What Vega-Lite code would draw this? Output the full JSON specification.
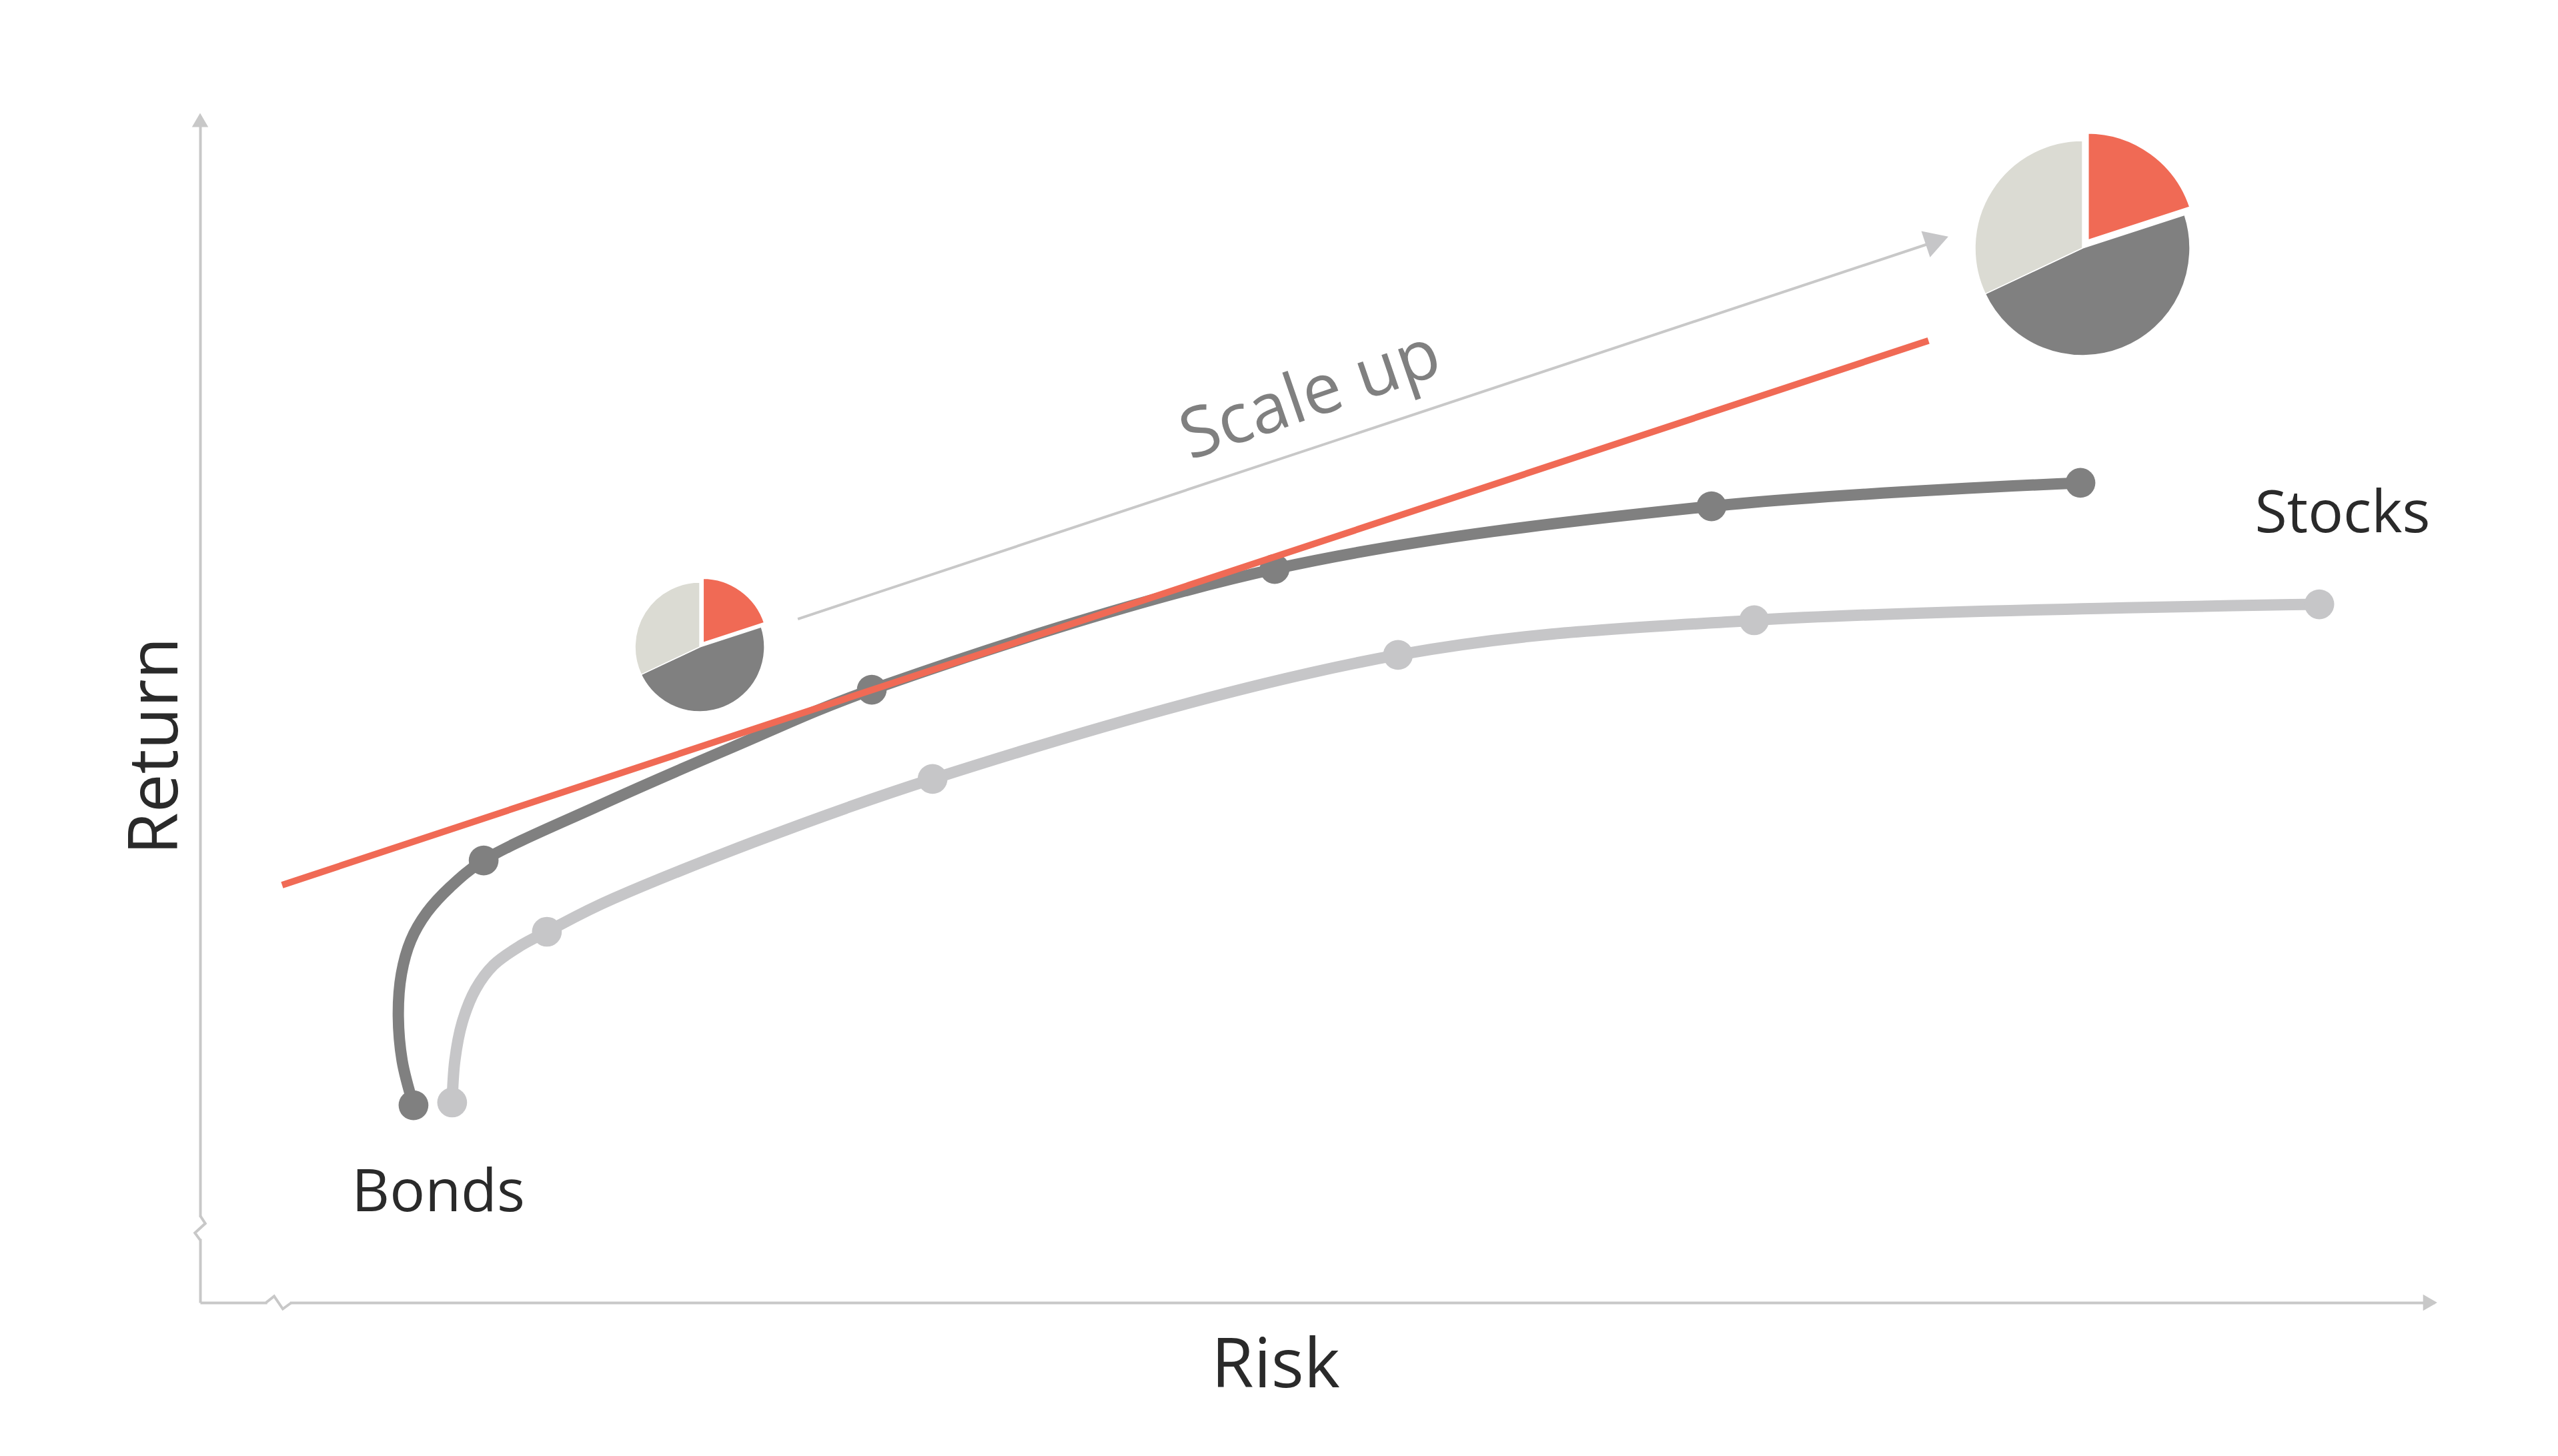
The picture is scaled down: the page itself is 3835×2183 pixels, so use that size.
{
  "$schema": "https://vega.github.io/schema/vega-lite/v6.json",
  "width": 3350,
  "height": 1773,
  "autosize": {"type": "none"},
  "padding": {"left": 300, "top": 180, "right": 185, "bottom": 230},
  "background": "white",
  "config": {"view": {"stroke": null}, "font": "Open Sans"},
  "datasets": {
    "curves": [
      {"series": "dark", "seq": 1, "risk": 9.55, "ret": 16.69, "dot": true},
      {"series": "dark", "seq": 2, "risk": 9.04, "ret": 20.47, "dot": false},
      {"series": "dark", "seq": 3, "risk": 8.87, "ret": 24.42, "dot": false},
      {"series": "dark", "seq": 4, "risk": 9.01, "ret": 27.81, "dot": false},
      {"series": "dark", "seq": 5, "risk": 9.43, "ret": 30.63, "dot": false},
      {"series": "dark", "seq": 6, "risk": 10.15, "ret": 32.99, "dot": false},
      {"series": "dark", "seq": 7, "risk": 11.19, "ret": 35.14, "dot": false},
      {"series": "dark", "seq": 8, "risk": 12.69, "ret": 37.39, "dot": true},
      {"series": "dark", "seq": 9, "risk": 17.91, "ret": 42.08, "dot": false},
      {"series": "dark", "seq": 10, "risk": 23.88, "ret": 47.01, "dot": false},
      {"series": "dark", "seq": 11, "risk": 30.06, "ret": 51.83, "dot": true},
      {"series": "dark", "seq": 12, "risk": 48.09, "ret": 62.04, "dot": true},
      {"series": "dark", "seq": 13, "risk": 67.64, "ret": 67.34, "dot": true},
      {"series": "dark", "seq": 14, "risk": 84.15, "ret": 69.32, "dot": true},
      {"series": "light", "seq": 1, "risk": 11.28, "ret": 16.92, "dot": true},
      {"series": "light", "seq": 2, "risk": 11.4, "ret": 20.47, "dot": false},
      {"series": "light", "seq": 3, "risk": 11.73, "ret": 23.69, "dot": false},
      {"series": "light", "seq": 4, "risk": 12.33, "ret": 26.51, "dot": false},
      {"series": "light", "seq": 5, "risk": 13.13, "ret": 28.54, "dot": false},
      {"series": "light", "seq": 6, "risk": 14.33, "ret": 30.17, "dot": false},
      {"series": "light", "seq": 7, "risk": 15.52, "ret": 31.36, "dot": true},
      {"series": "light", "seq": 8, "risk": 18.51, "ret": 34.18, "dot": false},
      {"series": "light", "seq": 9, "risk": 32.78, "ret": 44.28, "dot": true},
      {"series": "light", "seq": 10, "risk": 53.61, "ret": 54.77, "dot": true},
      {"series": "light", "seq": 11, "risk": 69.55, "ret": 57.7, "dot": true},
      {"series": "light", "seq": 12, "risk": 94.84, "ret": 59.05, "dot": true}
    ],
    "tangent": [
      {"risk": 3.67, "ret": 35.31},
      {"risk": 77.35, "ret": 81.35}
    ],
    "arrow": [
      {"part": "line", "risk": 26.75, "ret": 57.81},
      {"part": "line", "risk": 77.31, "ret": 89.51},
      {"part": "head", "risk": 77.73, "ret": 89.82}
    ],
    "pies": [
      {"pie": "small", "slice": "Stocks", "share": 20, "order": 1, "risk": 22.36, "ret": 55.44},
      {"pie": "small", "slice": "Bonds", "share": 48, "order": 2, "risk": 22.36, "ret": 55.44},
      {"pie": "small", "slice": "Other", "share": 32, "order": 3, "risk": 22.36, "ret": 55.44},
      {"pie": "large", "slice": "Stocks", "share": 20, "order": 1, "risk": 84.24, "ret": 89.17},
      {"pie": "large", "slice": "Bonds", "share": 48, "order": 2, "risk": 84.24, "ret": 89.17},
      {"pie": "large", "slice": "Other", "share": 32, "order": 3, "risk": 84.24, "ret": 89.17}
    ],
    "labels": [
      {"label": "Bonds", "risk": 10.66, "ret": 9.19},
      {"label": "Stocks", "risk": 95.88, "ret": 66.61}
    ],
    "annot": [
      {"label": "Scale up", "risk": 49.7, "ret": 76.6}
    ],
    "axisMarks": [
      {"kind": "yarrow", "risk": 0, "ret": 100},
      {"kind": "xarrow", "risk": 99.8, "ret": 0},
      {"kind": "xbreak", "risk": 3.52, "ret": 0},
      {"kind": "ybreak", "risk": 0, "ret": 6.32}
    ]
  },
  "encoding": {
    "x": {
      "field": "risk",
      "type": "quantitative",
      "scale": {"domain": [0, 100], "nice": false, "zero": false},
      "axis": {
        "title": "Risk",
        "domain": true,
        "domainColor": "#c8c8c8",
        "domainWidth": 4,
        "ticks": false,
        "labels": false,
        "grid": false,
        "titleFont": "Open Sans",
        "titleFontSize": 103,
        "titleFontWeight": "normal",
        "titleColor": "#2a2a2a",
        "titleX": 1612,
        "titleY": 95,
        "titleAlign": "center",
        "titleBaseline": "middle"
      }
    },
    "y": {
      "field": "ret",
      "type": "quantitative",
      "scale": {"domain": [0, 100], "nice": false, "zero": false},
      "axis": {
        "title": "Return",
        "domain": true,
        "domainColor": "#c8c8c8",
        "domainWidth": 4,
        "ticks": false,
        "labels": false,
        "grid": false,
        "titleFont": "Open Sans",
        "titleFontSize": 103,
        "titleFontWeight": "normal",
        "titleColor": "#2a2a2a",
        "titleAngle": 270,
        "titleX": -66,
        "titleY": 938,
        "titleAlign": "center",
        "titleBaseline": "middle"
      }
    }
  },
  "layer": [
    {
      "data": {"name": "curves"},
      "mark": {"type": "line", "interpolate": "catmull-rom", "strokeWidth": 17, "strokeCap": "round", "strokeJoin": "round"},
      "encoding": {
        "color": {"field": "series", "type": "nominal", "scale": {"domain": ["dark", "light"], "range": ["#808080", "#c6c6c8"]}, "legend": null},
        "order": {"field": "seq", "type": "quantitative"}
      }
    },
    {
      "data": {"name": "curves"},
      "transform": [{"filter": "datum.dot"}],
      "mark": {"type": "point", "filled": true, "size": 2000, "opacity": 1},
      "encoding": {
        "color": {"field": "series", "type": "nominal", "scale": {"domain": ["dark", "light"], "range": ["#808080", "#c6c6c8"]}, "legend": null}
      }
    },
    {
      "data": {"name": "tangent"},
      "mark": {"type": "line", "color": "#f06a55", "strokeWidth": 10},
      "encoding": {}
    },
    {
      "data": {"name": "arrow"},
      "transform": [{"filter": "datum.part === 'line'"}],
      "mark": {"type": "line", "color": "#c8c8c8", "strokeWidth": 4},
      "encoding": {}
    },
    {
      "data": {"name": "arrow"},
      "transform": [{"filter": "datum.part === 'head'"}],
      "mark": {"type": "point", "shape": "triangle-right", "filled": true, "color": "#c6c6c8", "size": 1700, "angle": 341.6, "opacity": 1}
    },
    {
      "data": {"name": "pies"},
      "transform": [
        {"stack": "share", "groupby": ["pie"], "sort": [{"field": "order", "order": "ascending"}], "as": ["t0", "t1"], "offset": "normalize"},
        {"filter": "datum.pie === 'small' && datum.slice !== 'Stocks'"}
      ],
      "mark": {"type": "arc", "radius": 97, "stroke": "white", "strokeWidth": 1.5},
      "encoding": {
        "theta": {"field": "t0", "type": "quantitative", "scale": {"domain": [0, 1]}},
        "theta2": {"field": "t1"},
        "color": {"field": "slice", "type": "nominal", "scale": {"domain": ["Stocks", "Bonds", "Other"], "range": ["#f06a55", "#808080", "#dbdbd3"]}, "legend": null}
      }
    },
    {
      "data": {"name": "pies"},
      "transform": [
        {"stack": "share", "groupby": ["pie"], "sort": [{"field": "order", "order": "ascending"}], "as": ["t0", "t1"], "offset": "normalize"},
        {"filter": "datum.pie === 'small' && datum.slice === 'Stocks'"}
      ],
      "mark": {"type": "arc", "radius": 99, "stroke": "white", "strokeWidth": 4, "xOffset": 4, "yOffset": -5},
      "encoding": {
        "theta": {"field": "t0", "type": "quantitative", "scale": {"domain": [0, 1]}},
        "theta2": {"field": "t1"},
        "color": {"field": "slice", "type": "nominal", "scale": {"domain": ["Stocks", "Bonds", "Other"], "range": ["#f06a55", "#808080", "#dbdbd3"]}, "legend": null}
      }
    },
    {
      "data": {"name": "pies"},
      "transform": [
        {"stack": "share", "groupby": ["pie"], "sort": [{"field": "order", "order": "ascending"}], "as": ["t0", "t1"], "offset": "normalize"},
        {"filter": "datum.pie === 'large' && datum.slice !== 'Stocks'"}
      ],
      "mark": {"type": "arc", "radius": 161, "stroke": "white", "strokeWidth": 1.5},
      "encoding": {
        "theta": {"field": "t0", "type": "quantitative", "scale": {"domain": [0, 1]}},
        "theta2": {"field": "t1"},
        "color": {"field": "slice", "type": "nominal", "scale": {"domain": ["Stocks", "Bonds", "Other"], "range": ["#f06a55", "#808080", "#dbdbd3"]}, "legend": null}
      }
    },
    {
      "data": {"name": "pies"},
      "transform": [
        {"stack": "share", "groupby": ["pie"], "sort": [{"field": "order", "order": "ascending"}], "as": ["t0", "t1"], "offset": "normalize"},
        {"filter": "datum.pie === 'large' && datum.slice === 'Stocks'"}
      ],
      "mark": {"type": "arc", "radius": 164, "stroke": "white", "strokeWidth": 5, "xOffset": 7, "yOffset": -10},
      "encoding": {
        "theta": {"field": "t0", "type": "quantitative", "scale": {"domain": [0, 1]}},
        "theta2": {"field": "t1"},
        "color": {"field": "slice", "type": "nominal", "scale": {"domain": ["Stocks", "Bonds", "Other"], "range": ["#f06a55", "#808080", "#dbdbd3"]}, "legend": null}
      }
    },
    {
      "data": {"name": "labels"},
      "mark": {"type": "text", "font": "Open Sans", "fontSize": 88, "color": "#2a2a2a", "align": "center", "baseline": "middle"},
      "encoding": {"text": {"field": "label"}}
    },
    {
      "data": {"name": "annot"},
      "mark": {"type": "text", "font": "Open Sans", "fontSize": 104, "color": "#808080", "align": "center", "baseline": "middle", "angle": 341},
      "encoding": {"text": {"field": "label"}}
    },
    {
      "data": {"name": "axisMarks"},
      "transform": [{"filter": "datum.kind === 'yarrow'"}],
      "mark": {"type": "point", "shape": "triangle-up", "filled": true, "color": "#c8c8c8", "size": 600, "opacity": 1}
    },
    {
      "data": {"name": "axisMarks"},
      "transform": [{"filter": "datum.kind === 'xarrow'"}],
      "mark": {"type": "point", "shape": "triangle-right", "filled": true, "color": "#c8c8c8", "size": 600, "opacity": 1}
    },
    {
      "data": {"name": "axisMarks"},
      "transform": [{"filter": "datum.kind === 'xbreak'"}],
      "mark": {"type": "point", "shape": "M-1,-0.25L1,-0.25L1,0.25L-1,0.25Z", "filled": true, "color": "white", "size": 1200, "opacity": 1}
    },
    {
      "data": {"name": "axisMarks"},
      "transform": [{"filter": "datum.kind === 'xbreak'"}],
      "mark": {"type": "point", "shape": "M-1.1,0L-0.4,-0.55L0.35,0.55L1.1,0", "filled": false, "stroke": "#c8c8c8", "strokeWidth": 4, "size": 1200, "opacity": 1}
    },
    {
      "data": {"name": "axisMarks"},
      "transform": [{"filter": "datum.kind === 'ybreak'"}],
      "mark": {"type": "point", "shape": "M-0.25,-1L0.25,-1L0.25,1L-0.25,1Z", "filled": true, "color": "white", "size": 1100, "opacity": 1}
    },
    {
      "data": {"name": "axisMarks"},
      "transform": [{"filter": "datum.kind === 'ybreak'"}],
      "mark": {"type": "point", "shape": "M0,-1.1L0.47,-0.4L-0.47,0.45L0,1.1", "filled": false, "stroke": "#c8c8c8", "strokeWidth": 4, "size": 1100, "opacity": 1}
    }
  ],
  "resolve": {"scale": {"color": "independent"}}
}
